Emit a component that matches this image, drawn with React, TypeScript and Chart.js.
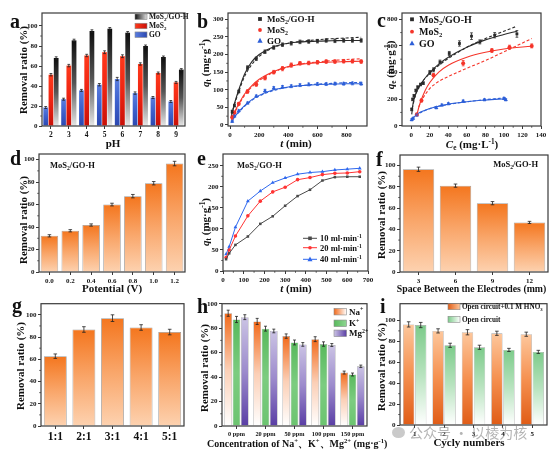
import React, { useEffect, useRef } from "react";
import { Chart, registerables } from "chart.js";

Chart.register(...registerables);

const SERIF = "'Liberation Serif', 'Times New Roman', 'DejaVu Serif', serif";
const AX = "#3a3a3a";
const INK = "#111111";

// ---------------- data ----------------
const NAMES_ABC = ["MoS₂/GO-H", "MoS₂", "GO"];
const Y_TICKS_100 = [0, 20, 40, 60, 80, 100];

// (a) pH
const PH_LABELS = ["2", "3", "4", "5", "6", "7", "8", "9"];
const PH_MOS2GOH = [68, 85.6, 95, 97.3, 93.3, 80, 69, 56.4];
const PH_MOS2 = [51.3, 60.4, 70.5, 73.8, 69.8, 62, 53, 43.6];
const PH_GO = [18.5, 26.8, 35.6, 41.3, 47, 32.9, 28.5, 24.5];
const PH_ERR_MOS2GOH = [1.2, 1.2, 1.2, 1.2, 1.2, 1, 1, 1];
const PH_ERR_MOS2 = [1.2, 1.2, 1.2, 1.4, 1.4, 1.2, 1, 1];
const PH_ERR_GO = [1, 1, 1, 1.2, 1.6, 1.2, 1, 1];

// (b) kinetics
const B_T = [15, 30, 60, 120, 180, 240, 300, 360, 420, 480, 540, 600, 660, 720, 780, 840, 900];
const B_MOS2GOH = [38, 55, 95, 163, 188, 208, 220, 228, 232, 236, 237, 238, 240, 239, 240, 240, 240];
const B_MOS2 = [22, 35, 60, 95, 115, 133, 150, 160, 170, 175, 176, 178, 180, 180, 181, 181, 180];
const B_GO = [10, 25, 40, 62, 82, 97, 105, 108, 110, 113, 115, 116, 116, 117, 117, 118, 117];
const B_ERR_MOS2GOH = [4, 4, 4, 5, 5, 5, 5, 5, 5, 5, 5, 5, 5, 5, 5, 5, 5];
const B_ERR_MOS2 = [4, 4, 4, 5, 5, 5, 5, 6, 6, 5, 5, 5, 5, 5, 5, 5, 5];
const B_ERR_GO = [3, 3, 3, 3, 3, 4, 4, 4, 4, 4, 4, 4, 4, 4, 4, 4, 4];
const B_FIT_T = [10, 30, 60, 100, 150, 200, 300, 400, 500, 600, 700, 800, 900];
const B_FIT1_MOS2GOH = [25, 60, 100, 145, 180, 200, 222, 232, 236, 238, 239, 240, 240];
const B_FIT2_MOS2GOH = [30, 58, 95, 138, 172, 195, 220, 232, 238, 242, 245, 247, 249];
const B_FIT1_MOS2 = [15, 35, 60, 88, 112, 130, 152, 166, 173, 177, 179, 180, 181];
const B_FIT2_MOS2 = [14, 33, 57, 84, 108, 126, 150, 165, 174, 179, 183, 186, 188];
const B_FIT1_GO = [8, 22, 38, 55, 72, 84, 100, 108, 112, 115, 116, 117, 117];
const B_FIT2_GO = [8, 21, 36, 53, 70, 82, 98, 107, 112, 116, 118, 120, 121];
const B_X_TICKS = [0, 200, 400, 600, 800];
const B_Y_TICKS = [0, 50, 100, 150, 200, 250, 300];

// (c) isotherms
const C_MOS2GOH_X = [0.5, 1.5, 3, 5, 7, 10, 13, 20, 24, 31, 41, 52, 65, 74, 90, 114];
const C_MOS2GOH_Y = [123, 198, 225, 265, 290, 310, 320, 400, 420, 478, 543, 618, 673, 630, 680, 690];
const C_MOS2GOH_ERR = [10, 10, 10, 10, 10, 10, 10, 15, 15, 15, 15, 20, 25, 15, 20, 25];
const C_MOS2_X = [6, 11, 24, 56, 87, 106, 130];
const C_MOS2_Y = [85, 190, 380, 470, 565, 590, 600];
const C_MOS2_ERR = [10, 12, 12, 20, 15, 15, 15];
const C_GO_X = [0.5, 2, 6, 27, 33, 40, 56, 79, 100, 102];
const C_GO_Y = [45, 55, 80, 135, 155, 165, 185, 195, 205, 195];
const C_GO_ERR = [8, 8, 8, 8, 8, 8, 8, 8, 8, 8];
const C_FIT1_MOS2GOH_X = [0.5, 2, 5, 10, 20, 30, 40, 60, 80, 100, 114];
const C_FIT1_MOS2GOH_Y = [85, 170, 240, 310, 400, 465, 515, 590, 645, 685, 710];
const C_FIT2_MOS2GOH_X = [1, 5, 10, 20, 30, 40, 60, 80, 100, 114];
const C_FIT2_MOS2GOH_Y = [130, 245, 310, 395, 455, 505, 590, 655, 710, 748];
const C_FIT1_MOS2_X = [6, 8, 10, 15, 20, 30, 40, 60, 80, 100, 130];
const C_FIT1_MOS2_Y = [80, 135, 180, 265, 325, 405, 455, 515, 552, 577, 597];
const C_FIT2_MOS2_X = [8, 12, 20, 24, 30, 40, 56, 80, 100, 130];
const C_FIT2_MOS2_Y = [140, 200, 280, 305, 335, 370, 420, 490, 555, 655];
const C_FIT1_GO_X = [0.5, 2, 6, 10, 20, 30, 40, 60, 80, 102];
const C_FIT1_GO_Y = [42, 58, 85, 103, 130, 148, 162, 180, 193, 203];
const C_FIT2_GO_X = [0.5, 6, 20, 40, 60, 80, 102];
const C_FIT2_GO_Y = [48, 82, 128, 160, 180, 196, 210];
const C_X_TICKS = [0, 20, 40, 60, 80, 100, 120, 140];
const C_Y_TICKS = [0, 200, 400, 600, 800];

// (d) potential
const D_LABELS = ["0.0", "0.2", "0.4", "0.6", "0.8", "1.0", "1.2"];
const D_VALUES = [32.2, 36.7, 41.8, 60, 67.5, 79, 96.5];
const D_ERR = [1, 1, 1, 1.2, 1.5, 1.5, 2];

// (e) flow rate
const E_NAMES = ["10 ml·min⁻¹", "20 ml·min⁻¹", "40 ml·min⁻¹"];
const E_T = [15, 30, 60, 120, 180, 240, 300, 360, 420, 480, 540, 600, 660];
const E_10 = [28, 42, 62, 82, 112, 130, 155, 178, 193, 215, 223, 224, 224];
const E_20 = [32, 50, 83, 131, 166, 188, 199, 217, 222, 229, 232, 233, 236];
const E_40 = [40, 58, 104, 166, 190, 210, 221, 230, 234, 236, 240, 242, 244];
const E_X_TICKS = [0, 100, 200, 300, 400, 500, 600, 700];
const E_Y_TICKS = [0, 50, 100, 150, 200, 250];

// (f) electrode spacing
const F_LABELS = ["3", "6", "9", "12"];
const F_VALUES = [96.6, 81.2, 64.7, 46.6];
const F_ERR = [2, 1.5, 1.5, 1];

// (g) ratio
const G_LABELS = ["1:1", "2:1", "3:1", "4:1", "5:1"];
const G_VALUES = [62.8, 86.8, 97, 88.6, 84.5];
const G_ERR = [2, 2.5, 3, 2.5, 2.5];

// (h) co-existing ions
const H_LABELS = ["0 ppm", "20 ppm", "50 ppm", "100 ppm", "150 ppm"];
const H_NAMES = ["Na⁺", "K⁺", "Mg²⁺"];
const H_NA = [92.2, 85.5, 73.5, 71, 43.7];
const H_K = [87.1, 79.6, 68.3, 67, 42.1];
const H_MG = [89, 77.7, 66.7, 66.2, 48.8];
const H_ERR_NA = [2.5, 2.5, 1.8, 2, 1.2];
const H_ERR_K = [2.5, 2, 2, 1.8, 1.2];
const H_ERR_MG = [2, 1.5, 1.5, 1.2, 1];

// (i) cycling
const I_LABELS = ["1", "2", "3", "4", "5"];
const I_NAMES = ["Open circuit+0.1 M HNO₃", "Open circuit"];
const I_HNO3 = [96.2, 90, 88.7, 87.7, 86.8];
const I_OPEN = [95.6, 76.2, 74.3, 71.8, 69.9];
const I_ERR_HNO3 = [2.5, 2, 2.5, 2, 2];
const I_ERR_OPEN = [2.5, 2, 2, 1.5, 1.5];

// ---------------- colours ----------------
const BLK = "#2b2b2b";
const RED = "#f5352a";
const BLU = "#2d5fd8";
const GRAD_A_BLK = ["#0e0e0e", "#555555", "#e6e6e6"];
const GRAD_A_RED = ["#ff3a1c", "#ee2412", "#c81008"];
const GRAD_A_BLU = ["#5a7ee0", "#3c60cc", "#2c48b0"];
const GRAD_OR = ["#f4761e", "#f9a66a", "#fdd2b0"];
const GRAD_NA = ["#f26a1b", "#fbcfb6", "#ffffff"];
const GRAD_K = ["#58b95c", "#7ccc80", "#6cc470"];
const GRAD_MG = ["#cbc3e4", "#9c8bcc", "#5a3ea5"];
const GRAD_I_OR = ["#fdc79c", "#f59050", "#e05c16"];
const GRAD_I_GR = ["#7ccb8a", "#b8e3bf", "#ffffff"];

// ---------------- helpers ----------------
type Geo = { cx: number; cy: number; w: number; h: number; l: number; t: number; r: number; b: number };

const SUB: Record<string, string> = { "₀": "0", "₁": "1", "₂": "2", "₃": "3", "ₑ": "e", "ₜ": "t" };
const SUP: Record<string, string> = { "⁰": "0", "¹": "1", "²": "2", "³": "3", "⁺": "+", "⁻": "-" };
type Seg = { t: string; it: boolean; mode: number };

function parseRich(s: string): Seg[] {
  const out: Seg[] = [];
  let it = false;
  for (const ch of s) {
    if (ch === "*") { it = !it; continue; }
    let mode = 0;
    let c = ch;
    if (SUB[ch]) { mode = 1; c = SUB[ch]; } else if (SUP[ch]) { mode = 2; c = SUP[ch]; }
    const last = out[out.length - 1];
    if (last && last.it === it && last.mode === mode) last.t += c;
    else out.push({ t: c, it, mode });
  }
  return out;
}
function segFont(sg: Seg, size: number) {
  return `${sg.it ? "italic " : ""}bold ${sg.mode ? size * 0.66 : size}px ${SERIF}`;
}
function drawRich(ctx: any, s: string, x: number, y: number, size: number, align = "left", color = INK, rot = false) {
  const segs = parseRich(s);
  ctx.save();
  ctx.fillStyle = color;
  ctx.textBaseline = "alphabetic";
  ctx.textAlign = "left";
  ctx.translate(x, y);
  if (rot) ctx.rotate(-Math.PI / 2);
  let w = 0;
  for (const sg of segs) { ctx.font = segFont(sg, size); w += ctx.measureText(sg.t).width; }
  let cx = align === "center" ? -w / 2 : align === "right" ? -w : 0;
  for (const sg of segs) {
    ctx.font = segFont(sg, size);
    const dy = sg.mode === 1 ? size * 0.22 : sg.mode === 2 ? -size * 0.36 : 0;
    ctx.fillText(sg.t, cx, dy);
    cx += ctx.measureText(sg.t).width;
  }
  ctx.restore();
}
function drawMarker(ctx: any, style: string, x: number, y: number, r: number, color: string) {
  ctx.save();
  ctx.fillStyle = color;
  ctx.beginPath();
  if (style === "rect") ctx.rect(x - r, y - r, 2 * r, 2 * r);
  else if (style === "triangle") {
    ctx.moveTo(x, y - r * 1.25);
    ctx.lineTo(x + r * 1.15, y + r * 0.85);
    ctx.lineTo(x - r * 1.15, y + r * 0.85);
    ctx.closePath();
  } else ctx.arc(x, y, r, 0, Math.PI * 2);
  ctx.fill();
  ctx.restore();
}
function legendBoxes(ctx: any, items: { label: string; colors: string[] }[], x: number, ys: number[], bw: number, bh: number, tx: number, size: number) {
  items.forEach((it, i) => {
    const y = ys[i];
    const g = ctx.createLinearGradient(x, 0, x + bw, 0);
    it.colors.forEach((c, k) => g.addColorStop(k / (it.colors.length - 1), c));
    ctx.fillStyle = g;
    ctx.fillRect(x, y - bh / 2, bw, bh);
    ctx.strokeStyle = "#8a8a8a";
    ctx.lineWidth = 0.6;
    ctx.strokeRect(x, y - bh / 2, bw, bh);
    drawRich(ctx, it.label, tx, y + size * 0.33, size, "left");
  });
}
function barGrad(stops: string[]) {
  return (c: any) => {
    if (c.type !== "data") return stops[0];
    const chart = c.chart;
    const ys = chart.scales && chart.scales.y;
    const v = c.parsed ? c.parsed.y : c.raw;
    if (!ys || v == null) return stops[0];
    const y0 = ys.getPixelForValue(v);
    const y1 = ys.getPixelForValue(0);
    if (!isFinite(y0) || !isFinite(y1) || Math.abs(y1 - y0) < 1) return stops[0];
    const g = chart.ctx.createLinearGradient(0, y0, 0, y1);
    stops.forEach((s, k) => g.addColorStop(k / (stops.length - 1), s));
    return g;
  };
}
function pts(xs: number[], ys: number[]) {
  return xs.map((x, i) => ({ x, y: ys[i] }));
}

const errorBarsPlugin = {
  id: "errbars",
  afterDatasetsDraw(chart: any) {
    const ctx = chart.ctx;
    chart.data.datasets.forEach((ds: any, di: number) => {
      if (!ds.errors) return;
      const meta = chart.getDatasetMeta(di);
      const ys = chart.scales[meta.yAxisID];
      ctx.save();
      ctx.strokeStyle = ds.errColor || "#222";
      ctx.lineWidth = 0.8;
      meta.data.forEach((el: any, i: number) => {
        const raw = ds.data[i];
        const v = typeof raw === "number" ? raw : raw.y;
        const e = ds.errors[i];
        if (!e) return;
        const y1 = ys.getPixelForValue(v + e);
        const y2 = ys.getPixelForValue(v - e);
        const x = el.x;
        const cap = ds.errCap == null ? 1.6 : ds.errCap;
        ctx.beginPath();
        ctx.moveTo(x, y1); ctx.lineTo(x, y2);
        ctx.moveTo(x - cap, y1); ctx.lineTo(x + cap, y1);
        ctx.moveTo(x - cap, y2); ctx.lineTo(x + cap, y2);
        ctx.stroke();
      });
      ctx.restore();
    });
  },
};

const framePlugin = {
  id: "frame",
  afterDatasetsDraw(chart: any, _args: any, opts: any) {
    const { ctx, chartArea: ca } = chart;
    ctx.save();
    ctx.strokeStyle = AX;
    ctx.lineWidth = 1.2;
    ctx.strokeRect(ca.left, ca.top, ca.right - ca.left, ca.bottom - ca.top);
    ctx.lineWidth = 0.8;
    const minor = (scale: any, vertical: boolean) => {
      const ts = scale.ticks;
      for (let i = 0; i < ts.length - 1; i++) {
        const p = scale.getPixelForValue((ts[i].value + ts[i + 1].value) / 2);
        ctx.beginPath();
        if (vertical) { ctx.moveTo(ca.left, p); ctx.lineTo(ca.left - 1.8, p); }
        else { ctx.moveTo(p, ca.bottom); ctx.lineTo(p, ca.bottom + 1.8); }
        ctx.stroke();
      }
    };
    if (opts && opts.minorY) minor(chart.scales.y, true);
    if (opts && opts.minorX) minor(chart.scales.x, false);
    ctx.restore();
  },
};

Chart.register(errorBarsPlugin as any, framePlugin as any);

function scaleOpts(kind: string, g: Geo, o: any) {
  const s: any = {
    type: o.type,
    offset: !!o.offset,
    border: { display: false },
    grid: { display: true, drawOnChartArea: false, drawTicks: true, tickLength: 3, tickColor: AX, tickWidth: 1, offset: false },
    ticks: {
      color: INK,
      font: { family: SERIF, size: o.fontSize || 7, weight: "bold" },
      padding: o.pad == null ? 1.5 : o.pad,
      maxRotation: 0,
      minRotation: 0,
      autoSkip: false,
    },
    afterFit: (sc: any) => {
      if (kind === "x") sc.height = g.cy + g.h - g.b;
      else sc.width = g.l - g.cx;
    },
  };
  if (o.min != null) s.min = o.min;
  if (o.max != null) s.max = o.max;
  if (o.ticks) s.afterBuildTicks = (sc: any) => { sc.ticks = o.ticks.map((v: number) => ({ value: v })); };
  return s;
}

function baseOptions(g: Geo, scales: any, frame: any) {
  return {
    responsive: false,
    animation: false,
    devicePixelRatio: 1,
    events: [],
    layout: { autoPadding: false, padding: { left: 0, top: g.t - g.cy, right: g.cx + g.w - g.r, bottom: 0 } },
    plugins: { legend: { display: false }, tooltip: { enabled: false }, title: { display: false }, frame },
    scales,
  };
}

function deco(g: Geo, fn: (ctx: any, chart: any) => void) {
  return {
    id: "deco",
    afterDraw(chart: any) {
      const ctx = chart.ctx;
      ctx.save();
      ctx.translate(-g.cx, -g.cy);
      fn(ctx, chart);
      ctx.restore();
    },
  };
}

const LETTER = 20;
const TITLE = 11;

// ---------------- panel configs ----------------
const gA: Geo = { cx: 0, cy: 0, w: 190, h: 150, l: 42, t: 13, r: 185, b: 126 };
function cfgA() {
  const common = { categoryPercentage: 0.88, barPercentage: 0.9, borderWidth: 0, errCap: 1.4 };
  return {
    type: "bar",
    data: {
      labels: PH_LABELS,
      datasets: [
        { ...common, label: NAMES_ABC[2], data: PH_GO, errors: PH_ERR_GO, backgroundColor: barGrad(GRAD_A_BLU) },
        { ...common, label: NAMES_ABC[1], data: PH_MOS2, errors: PH_ERR_MOS2, backgroundColor: barGrad(GRAD_A_RED) },
        { ...common, label: NAMES_ABC[0], data: PH_MOS2GOH, errors: PH_ERR_MOS2GOH, backgroundColor: barGrad(GRAD_A_BLK) },
      ],
    },
    options: baseOptions(gA, {
      x: scaleOpts("x", gA, { type: "category", offset: true, fontSize: 7.5 }),
      y: scaleOpts("y", gA, { type: "linear", min: 0, max: 113, ticks: Y_TICKS_100 }),
    }, { minorY: true }),
    plugins: [deco(gA, (ctx) => {
      drawRich(ctx, "a", 10, 28, LETTER);
      drawRich(ctx, "Removal ratio (%)", 26.5, 70, TITLE, "center", INK, true);
      drawRich(ctx, "pH", 113, 147, TITLE, "center");
      legendBoxes(ctx, [
        { label: NAMES_ABC[0], colors: ["#111111", "#e0e0e0"] },
        { label: NAMES_ABC[1], colors: ["#ff3a1c", "#c81008"] },
        { label: NAMES_ABC[2], colors: ["#5a7ee0", "#2c48b0"] },
      ], 135, [16.7, 26, 34.7], 12, 5.5, 149, 7.5);
    })],
  };
}

const gB: Geo = { cx: 183, cy: 0, w: 185, h: 150, l: 228, t: 13, r: 367, b: 126 };
function cfgB() {
  const sc = (label: string, d: number[], err: number[], col: string, st: string) => ({
    label, data: pts(B_T, d), errors: err, errColor: col, errCap: 1.4,
    pointStyle: st, pointRadius: st === "triangle" ? 2.4 : 2, pointBackgroundColor: col, pointBorderWidth: 0, showLine: false,
  });
  const fit = (d: number[], col: string, dash: boolean) => ({
    data: pts(B_FIT_T, d), showLine: true, pointRadius: 0, borderColor: col, borderWidth: 1.1,
    borderDash: dash ? [3, 2] : [], cubicInterpolationMode: "monotone",
  });
  return {
    type: "scatter",
    data: {
      datasets: [
        fit(B_FIT1_MOS2GOH, BLK, false), fit(B_FIT2_MOS2GOH, BLK, true),
        fit(B_FIT1_MOS2, RED, false), fit(B_FIT2_MOS2, RED, true),
        fit(B_FIT1_GO, BLU, false), fit(B_FIT2_GO, BLU, true),
        sc(NAMES_ABC[0], B_MOS2GOH, B_ERR_MOS2GOH, BLK, "rect"),
        sc(NAMES_ABC[1], B_MOS2, B_ERR_MOS2, RED, "circle"),
        sc(NAMES_ABC[2], B_GO, B_ERR_GO, BLU, "triangle"),
      ],
    },
    options: baseOptions(gB, {
      x: scaleOpts("x", gB, { type: "linear", min: -14, max: 940, ticks: B_X_TICKS }),
      y: scaleOpts("y", gB, { type: "linear", min: -3, max: 318, ticks: B_Y_TICKS }),
    }, { minorY: true, minorX: true }),
    plugins: [deco(gB, (ctx) => {
      drawRich(ctx, "b", 197, 28, LETTER);
      drawRich(ctx, "*q*ₜ (mg·g⁻¹)", 208.5, 63, TITLE, "center", INK, true);
      drawRich(ctx, "*t* (min)", 296, 147, TITLE, "center");
      const st = ["rect", "circle", "triangle"];
      const cols = [BLK, RED, BLU];
      [19, 30, 40.7].forEach((y, i) => {
        drawMarker(ctx, st[i], 260, y, i === 2 ? 2.3 : 1.9, cols[i]);
        drawRich(ctx, NAMES_ABC[i], 267, y + 3, 9);
      });
    })],
  };
}

const gC: Geo = { cx: 365, cy: 0, w: 188, h: 150, l: 402, t: 13, r: 541, b: 126 };
function cfgC() {
  const sc = (label: string, xs: number[], ys: number[], err: number[], col: string, st: string) => ({
    label, data: pts(xs, ys), errors: err, errColor: col, errCap: 1.4,
    pointStyle: st, pointRadius: st === "triangle" ? 2.4 : 2, pointBackgroundColor: col, pointBorderWidth: 0, showLine: false,
  });
  const fit = (xs: number[], ys: number[], col: string, dash: boolean) => ({
    data: pts(xs, ys), showLine: true, pointRadius: 0, borderColor: col, borderWidth: 1.1,
    borderDash: dash ? [3, 2] : [], cubicInterpolationMode: "monotone",
  });
  return {
    type: "scatter",
    data: {
      datasets: [
        fit(C_FIT1_MOS2GOH_X, C_FIT1_MOS2GOH_Y, BLK, false), fit(C_FIT2_MOS2GOH_X, C_FIT2_MOS2GOH_Y, BLK, true),
        fit(C_FIT1_MOS2_X, C_FIT1_MOS2_Y, RED, false), fit(C_FIT2_MOS2_X, C_FIT2_MOS2_Y, RED, true),
        fit(C_FIT1_GO_X, C_FIT1_GO_Y, BLU, false), fit(C_FIT2_GO_X, C_FIT2_GO_Y, BLU, true),
        sc(NAMES_ABC[0], C_MOS2GOH_X, C_MOS2GOH_Y, C_MOS2GOH_ERR, BLK, "rect"),
        sc(NAMES_ABC[1], C_MOS2_X, C_MOS2_Y, C_MOS2_ERR, RED, "circle"),
        sc(NAMES_ABC[2], C_GO_X, C_GO_Y, C_GO_ERR, BLU, "triangle"),
      ],
    },
    options: baseOptions(gC, {
      x: scaleOpts("x", gC, { type: "linear", min: -10, max: 140, ticks: C_X_TICKS }),
      y: scaleOpts("y", gC, { type: "linear", min: -2, max: 847, ticks: C_Y_TICKS }),
    }, { minorY: true, minorX: true }),
    plugins: [deco(gC, (ctx) => {
      drawRich(ctx, "c", 377, 27, LETTER);
      drawRich(ctx, "*q*ₑ (mg·g⁻¹)", 394, 65, TITLE, "center", INK, true);
      drawRich(ctx, "*C*ₑ (mg·L⁻¹)", 472, 148, TITLE, "center");
      const st = ["rect", "circle", "triangle"];
      const cols = [BLK, RED, BLU];
      [19.3, 31.7, 43.3].forEach((y, i) => {
        drawMarker(ctx, st[i], 412, y, i === 2 ? 2.3 : 1.9, cols[i]);
        drawRich(ctx, NAMES_ABC[i], 419, y + 3.3, 10);
      });
    })],
  };
}

function orangeBars(g: Geo, labels: string[], values: number[], errs: number[], ymax: number, pct: number, xFont: number) {
  return {
    type: "bar",
    data: {
      labels,
      datasets: [{
        data: values, errors: errs, errCap: 1.8,
        backgroundColor: barGrad(GRAD_OR), borderColor: "#9a9a9a", borderWidth: 0.8,
        categoryPercentage: 1, barPercentage: pct,
      }],
    },
    options: baseOptions(g, {
      x: scaleOpts("x", g, { type: "category", offset: true, fontSize: xFont }),
      y: scaleOpts("y", g, { type: "linear", min: 0, max: ymax, ticks: Y_TICKS_100 }),
    }, { minorY: true }),
  };
}

const gD: Geo = { cx: 0, cy: 148, w: 190, h: 152, l: 39, t: 154, r: 185, b: 272 };
function cfgD() {
  return {
    ...orangeBars(gD, D_LABELS, D_VALUES, D_ERR, 105, 0.84, 7),
    plugins: [deco(gD, (ctx) => {
      drawRich(ctx, "d", 10, 165, LETTER);
      drawRich(ctx, NAMES_ABC[0], 50, 168, 8.5);
      drawRich(ctx, "Removal ratio (%)", 26.5, 220, TITLE, "center", INK, true);
      drawRich(ctx, "Potential (V)", 112, 292, TITLE, "center");
    })],
  };
}

const gE: Geo = { cx: 183, cy: 148, w: 200, h: 152, l: 223, t: 154, r: 368, b: 271 };
const E_COLS = ["#4a4a4a", "#ff3434", "#2f68ee"];
const E_STYLES = ["rect", "circle", "triangle"];
function cfgE() {
  const ln = (i: number, d: number[]) => ({
    label: E_NAMES[i], data: pts(E_T, d), showLine: true, borderColor: E_COLS[i], borderWidth: 1,
    pointStyle: E_STYLES[i], pointRadius: i === 2 ? 2.2 : 1.8, pointBackgroundColor: E_COLS[i], pointBorderWidth: 0,
  });
  return {
    type: "scatter",
    data: { datasets: [ln(0, E_10), ln(1, E_20), ln(2, E_40)] },
    options: baseOptions(gE, {
      x: scaleOpts("x", gE, { type: "linear", min: 0, max: 700, ticks: E_X_TICKS }),
      y: scaleOpts("y", gE, { type: "linear", min: 0, max: 278, ticks: E_Y_TICKS }),
    }, { minorY: true, minorX: true }),
    plugins: [deco(gE, (ctx) => {
      drawRich(ctx, "e", 197, 165, LETTER);
      drawRich(ctx, NAMES_ABC[0], 237, 168, 8.5);
      drawRich(ctx, "*q*ₜ (mg·g⁻¹)", 208.5, 222, TITLE, "center", INK, true);
      drawRich(ctx, "*t* (min)", 296, 292, TITLE, "center");
      [238.3, 247.7, 259.3].forEach((y, i) => {
        ctx.save();
        ctx.strokeStyle = E_COLS[i];
        ctx.lineWidth = 1;
        ctx.beginPath(); ctx.moveTo(303, y); ctx.lineTo(317, y); ctx.stroke();
        ctx.restore();
        drawMarker(ctx, E_STYLES[i], 310, y, i === 2 ? 2.2 : 1.8, E_COLS[i]);
        drawRich(ctx, E_NAMES[i], 320, y + 3, 8.5);
      });
    })],
  };
}

const gF: Geo = { cx: 365, cy: 148, w: 188, h: 152, l: 400, t: 155, r: 548, b: 272 };
function cfgF() {
  return {
    ...orangeBars(gF, F_LABELS, F_VALUES, F_ERR, 110, 0.85, 7),
    plugins: [deco(gF, (ctx) => {
      drawRich(ctx, "f", 376, 166, LETTER);
      drawRich(ctx, NAMES_ABC[0], 538, 167, 8.5, "right");
      drawRich(ctx, "Removal ratio (%)", 384.5, 215, TITLE, "center", INK, true);
      drawRich(ctx, "Space Between the Electrodes (mm)", 471.5, 292, 9.8, "center");
    })],
  };
}

const gG: Geo = { cx: 0, cy: 298, w: 190, h: 155, l: 41, t: 301, r: 184, b: 426 };
function cfgG() {
  return {
    ...orangeBars(gG, G_LABELS, G_VALUES, G_ERR, 110, 0.8, 11.5),
    plugins: [deco(gG, (ctx) => {
      drawRich(ctx, "g", 12, 312, LETTER);
      drawRich(ctx, "Removal ratio (%)", 24, 366, TITLE, "center", INK, true);
    })],
  };
}

const gH: Geo = { cx: 183, cy: 298, w: 215, h: 155, l: 222, t: 301, r: 367, b: 426 };
function cfgH() {
  const common = { categoryPercentage: 0.86, barPercentage: 0.92, borderColor: "#a0a0a0", borderWidth: 0.6, errCap: 1.5 };
  return {
    type: "bar",
    data: {
      labels: H_LABELS,
      datasets: [
        { ...common, label: H_NAMES[0], data: H_NA, errors: H_ERR_NA, backgroundColor: barGrad(GRAD_NA) },
        { ...common, label: H_NAMES[1], data: H_K, errors: H_ERR_K, backgroundColor: barGrad(GRAD_K) },
        { ...common, label: H_NAMES[2], data: H_MG, errors: H_ERR_MG, backgroundColor: barGrad(GRAD_MG) },
      ],
    },
    options: baseOptions(gH, {
      x: scaleOpts("x", gH, { type: "category", offset: true, fontSize: 6.3 }),
      y: scaleOpts("y", gH, { type: "linear", min: 0, max: 100, ticks: Y_TICKS_100 }),
    }, { minorY: true }),
    plugins: [deco(gH, (ctx) => {
      drawRich(ctx, "h", 197, 313, LETTER);
      drawRich(ctx, "Removal ratio (%)", 207.5, 368, TITLE, "center", INK, true);
      drawRich(ctx, "Concentration of Na⁺、K⁺、Mg²⁺ (mg·g⁻¹)", 207, 447, 10);
      legendBoxes(ctx, [
        { label: H_NAMES[0], colors: ["#f26a1b", "#ffffff"] },
        { label: H_NAMES[1], colors: ["#58b95c", "#8fd692"] },
        { label: H_NAMES[2], colors: ["#cbc3e4", "#5a3ea5"] },
      ], 334, [311.7, 323.3, 333.3], 12.5, 6.5, 349, 9);
    })],
  };
}

const gI: Geo = { cx: 365, cy: 298, w: 188, h: 155, l: 400, t: 301, r: 547, b: 425 };
function cfgI() {
  const common = { categoryPercentage: 0.82, barPercentage: 0.94, borderColor: "#a0a0a0", borderWidth: 0.6, errCap: 1.8 };
  return {
    type: "bar",
    data: {
      labels: I_LABELS,
      datasets: [
        { ...common, label: I_NAMES[0], data: I_HNO3, errors: I_ERR_HNO3, backgroundColor: barGrad(GRAD_I_OR) },
        { ...common, label: I_NAMES[1], data: I_OPEN, errors: I_ERR_OPEN, backgroundColor: barGrad(GRAD_I_GR) },
      ],
    },
    options: baseOptions(gI, {
      x: scaleOpts("x", gI, { type: "category", offset: true, fontSize: 7 }),
      y: scaleOpts("y", gI, { type: "linear", min: 0, max: 116, ticks: Y_TICKS_100 }),
    }, { minorY: true }),
    plugins: [deco(gI, (ctx) => {
      drawRich(ctx, "i", 380, 313, LETTER);
      drawRich(ctx, "Removal ratio (%)", 384.5, 367, TITLE, "center", INK, true);
      drawRich(ctx, "Cycly numbers", 469, 446, TITLE, "center");
      legendBoxes(ctx, [
        { label: I_NAMES[0], colors: ["#e05c16", "#fdc79c"] },
        { label: I_NAMES[1], colors: ["#7ccb8a", "#ffffff"] },
      ], 448, [306.7, 319.3], 12, 6, 462, 7.2);
    })],
  };
}

// ---------------- components ----------------
function Panel({ g, make }: { g: Geo; make: () => any }) {
  const ref = useRef<HTMLCanvasElement | null>(null);
  useEffect(() => {
    if (!ref.current) return;
    const chart = new Chart(ref.current, make());
    return () => chart.destroy();
  }, []);
  return (
    <canvas
      ref={ref}
      width={g.w}
      height={g.h}
      style={{ position: "absolute", left: g.cx, top: g.cy, width: g.w, height: g.h }}
    />
  );
}

export default function App() {
  return (
    <div style={{ position: "absolute", left: 0, top: 0, width: 553, height: 453, background: "#ffffff", overflow: "hidden" }}>
      <Panel g={gA} make={cfgA} />
      <Panel g={gB} make={cfgB} />
      <Panel g={gC} make={cfgC} />
      <Panel g={gD} make={cfgD} />
      <Panel g={gE} make={cfgE} />
      <Panel g={gF} make={cfgF} />
      <Panel g={gG} make={cfgG} />
      <Panel g={gH} make={cfgH} />
      <Panel g={gI} make={cfgI} />
      <div
        style={{
          position: "absolute", left: 392, top: 423, height: 18, display: "flex", alignItems: "center",
          color: "rgba(130,130,130,0.6)", fontFamily: "'Noto Sans CJK SC', sans-serif", fontSize: 14, whiteSpace: "nowrap",
        }}
      >
        <span style={{ display: "inline-block", width: 13, height: 11, borderRadius: "50%", background: "rgba(150,150,150,0.5)", marginRight: 4 }} />
        <span>公众号 · 以棱为核</span>
      </div>
    </div>
  );
}
